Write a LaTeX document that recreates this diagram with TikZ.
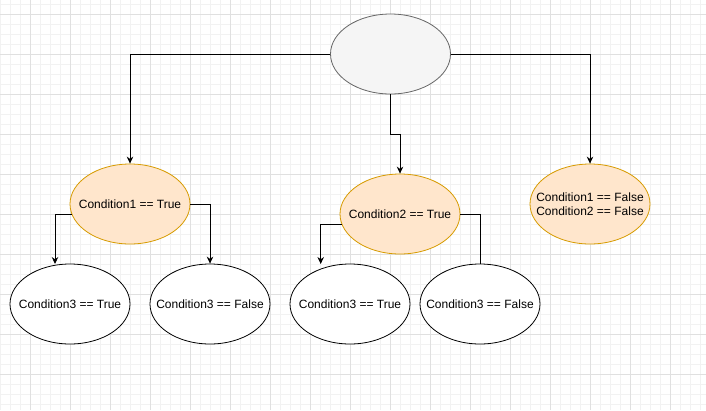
\documentclass[tikz,border=0pt]{standalone}
\usepackage{fontspec}
\setmainfont{Liberation Sans}
\usetikzlibrary{shapes.geometric,arrows.meta}
\definecolor{gridminor}{HTML}{F2F2F2}
\definecolor{gridmajor}{HTML}{E0E0E0}
\definecolor{rootfill}{HTML}{F5F5F5}
\definecolor{rootline}{HTML}{666666}
\definecolor{orfill}{HTML}{FFE6CC}
\definecolor{orline}{HTML}{D79B00}
\newcommand{\zw}[1]{\makebox[0pt][c]{#1}}
\begin{document}
\begin{tikzpicture}[x=1pt,y=-1pt,
  ell/.style={ellipse,draw=black,fill=white,line width=0.8pt,minimum width=120pt,minimum height=80pt,inner sep=0pt,font=\fontsize{12}{14.3}\selectfont,align=center,text=black},
  rootell/.style={ell,draw=rootline,fill=rootfill},
  orell/.style={ell,draw=orline,fill=orfill},
  conn/.style={line width=1pt,draw=black},
  arr/.style={conn,-{Stealth[length=7pt,width=6.5pt]}}
]
\useasboundingbox (0,0) rectangle (706,410);
\fill[white] (0,0) rectangle (706,410);
\foreach \x in {0,10,...,700} \draw[gridminor,line width=0.6pt] (\x,0) -- (\x,410);
\foreach \y in {4,14,...,404} \draw[gridminor,line width=0.6pt] (0,\y) -- (706,\y);
\foreach \x in {30,70,...,670} \draw[gridmajor,line width=0.6pt] (\x,0) -- (\x,410);
\foreach \y in {14,54,...,374} \draw[gridmajor,line width=0.6pt] (0,\y) -- (706,\y);

\node[rootell] (root) at (390.5,54) {};
\node[orell] (c1) at (130,204) {\zw{Condition1 == True}};
\node[orell] (c2) at (400,214) {\zw{Condition2 == True}};
\node[orell] (c3) at (590,204) {\zw{Condition1 == False}\\\zw{Condition2 == False}};
\node[ell] (l1) at (70,304) {\zw{Condition3 == True}};
\node[ell] (r1) at (210,304) {\zw{Condition3 == False}};
\node[ell] (l2) at (350,304) {\zw{Condition3 == True}};
\node[ell] (r2) at (480,304) {\zw{Condition3 == False}};

\coordinate (mid) at (390.5,134);
\coordinate (l1top) at (55,264);
\coordinate (l2top) at (320.7,264);

\draw[arr] (root.west) -| (c1.north);
\draw[arr] (root.south) -- (mid) -| (c2.north);
\draw[arr] (root.east) -| (c3.north);
\draw[arr] (c1.190) -| (l1top);
\draw[arr] (c1.east) -| (r1.north);
\draw[arr] (c2.190) -| (l2top);
\draw[conn] (c2.east) -| (r2.north);
\end{tikzpicture}
\end{document}
